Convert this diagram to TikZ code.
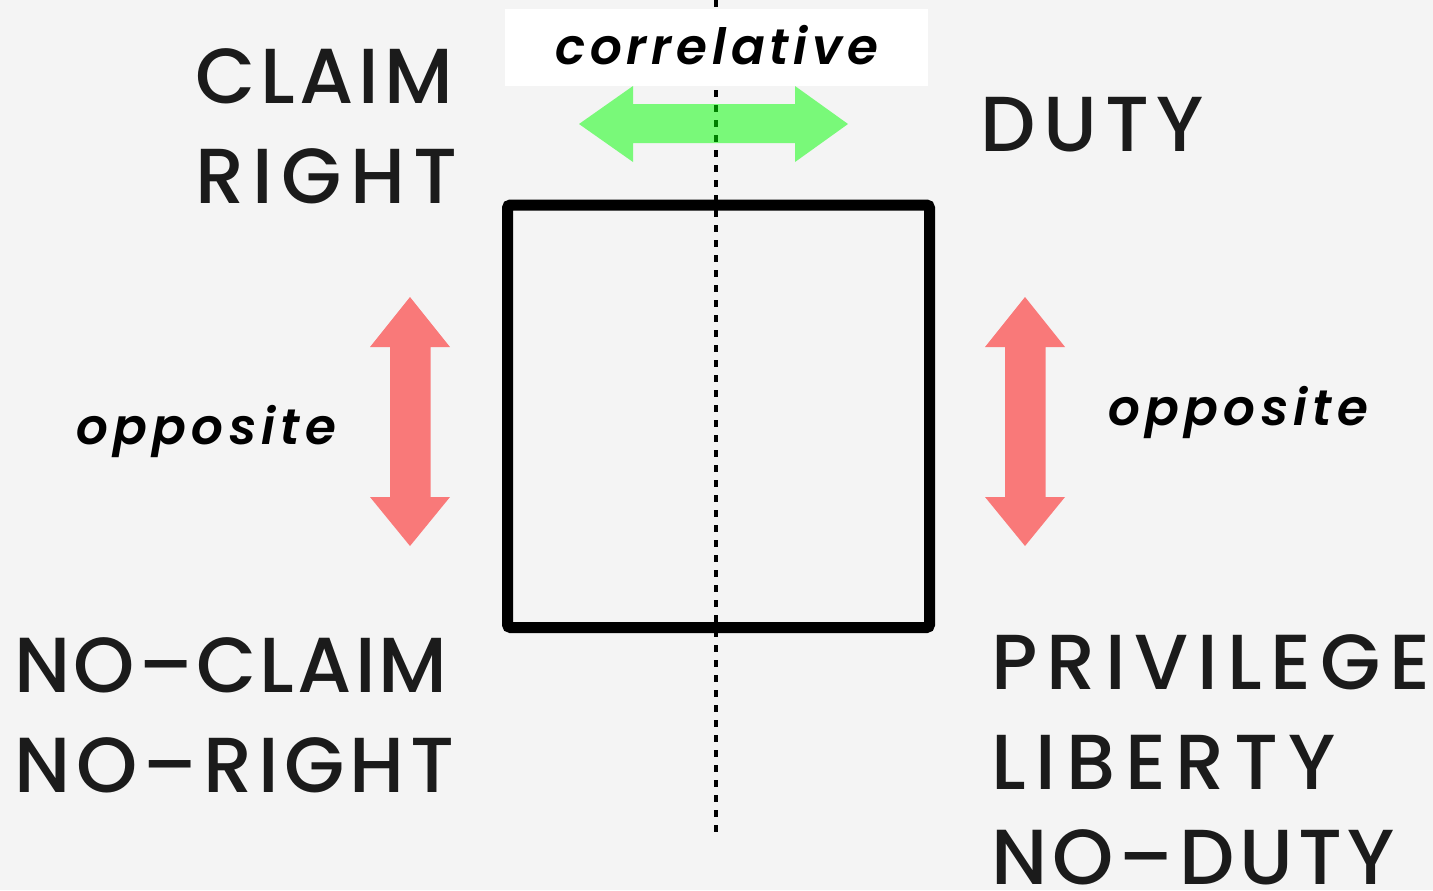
\documentclass[tikz,border=0pt]{standalone}
\usepackage{fontspec}
\newfontfamily\capsfont{Poppins Medium}
\newfontfamily\itfont{Poppins SemiBold Italic}[LetterSpace=10.5]
\definecolor{bg}{HTML}{F4F4F4}
\definecolor{ink}{HTML}{1B1B1B}
\begin{document}
\begin{tikzpicture}[x=0.5pt,y=-0.5pt,
  caps/.style={font=\capsfont\fontsize{39}{50}\selectfont\addfontfeatures{LetterSpace=#1}, text=ink, inner sep=0pt, anchor=base west},
  caps/.default=10,
  ital/.style={font=\itfont\fontsize{25}{30}\selectfont, text=black, inner sep=0pt, anchor=base west},
  greenarrow/.style={fill=green, fill opacity=0.5, draw=none},
  redarrow/.style={fill=red, fill opacity=0.5, draw=none},
  axis/.style={line width=2pt, dash pattern=on 3.5pt off 4pt, black},
  frame/.style={line width=5.5pt, draw=black, rounded corners=1.5pt}]
\fill[bg] (0,0) rectangle (1433,890);
\useasboundingbox (0,0) rectangle (1433,890);
% dotted axis
\coordinate (axtop) at (716,0);
\coordinate (axbot) at (716,834);
\draw[axis] (axtop) -- (axbot);
% white label box
\fill[white] (505,9) rectangle (928,86);
\node[ital,font=\itfont\fontsize{25}{30}\selectfont\addfontfeatures{LetterSpace=9.5}] (corr) at (555,64) {correlative};
% square
\draw[frame] (507.5,205) rectangle (929.5,627.5);
% green double arrow
\fill[greenarrow] (579,124) -- (633,86) -- (633,104) -- (795,104) -- (795,86) -- (848,124)
  -- (795,162) -- (795,143) -- (633,143) -- (633,162) -- cycle;
% red arrows
\foreach \cx in {410,1025}{
\fill[redarrow] (\cx,297) -- (\cx+40,347) -- (\cx+20.5,347) -- (\cx+20.5,497) -- (\cx+40,497) -- (\cx,546)
  -- (\cx-40,497) -- (\cx-20,497) -- (\cx-20,347) -- (\cx-40,347) -- cycle;}
% labels
\node[caps=6] (claim) at (195,103) {CLAIM};
\node[caps=10.5] (right) at (195,203) {RIGHT};
\node[caps=10] (duty) at (980,151) {DUTY};
\node[caps=4] (noclaim) at (14,692) {NO–CLAIM};
\node[caps=7] (noright) at (14,792) {NO–RIGHT};
\node[caps=11.5] (privilege) at (991,689) {PRIVILEGE};
\node[caps=12.5] (liberty) at (991,789) {LIBERTY};
\node[caps=6.5] (noduty) at (991,884) {NO–DUTY};
\node[ital] (oppL) at (76,444) {opposite};
\node[ital] (oppR) at (1108,425) {opposite};
\end{tikzpicture}
\end{document}
